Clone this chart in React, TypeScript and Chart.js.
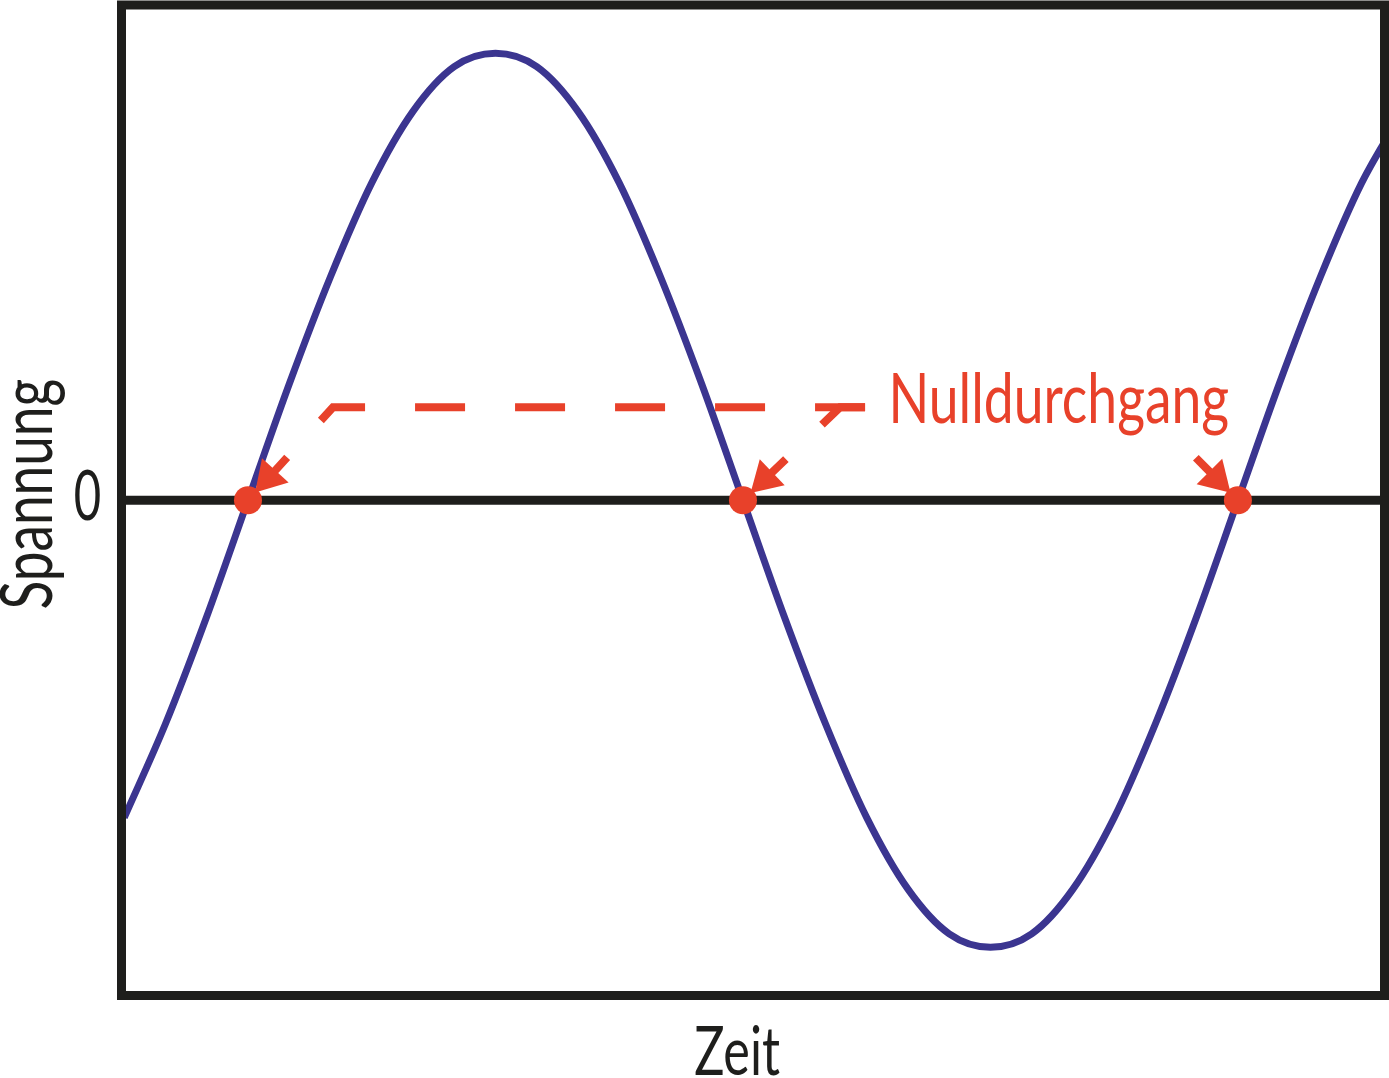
import React, { useEffect, useRef } from "react";
import { Chart, registerables } from "chart.js";

Chart.register(...registerables);

// ---- data (phase in degrees, voltage normalised to peak = 1) ----
const phaseDeg = [
  -45, -30, -15, 0, 15, 30, 45, 60, 75, 90, 105, 120, 135, 150, 165, 180,
  195, 210, 225, 240, 255, 270, 285, 300, 315, 330, 345, 360, 375, 390, 405, 420,
];
const voltage = [
  -0.71, -0.5, -0.26, 0, 0.26, 0.5, 0.71, 0.87, 0.97, 1, 0.97, 0.87, 0.71, 0.5, 0.26, 0,
  -0.26, -0.5, -0.71, -0.87, -0.97, -1, -0.97, -0.87, -0.71, -0.5, -0.26, 0, 0.26, 0.5, 0.71, 0.87,
];
const zeroCrossings = [0, 180, 360];
const xRange = [-46, 413.3];
const yRange = [-1.108, 1.108];
const xTitle = "Zeit";
const yTitle = "Spannung";
const yTickLabel = "0";
const annotationLabel = "Nulldurchgang";
// leader lines (data coordinates): each ends at a zero crossing
const leaderPaths: number[][][] = [
  [[224.4, 0.208], [30.9, 0.208], [0, 0]],
  [[224.4, 0.208], [215.3, 0.208], [180, 0]],
  [[344.7, 0.095], [360, 0]],
];

const RED = "#e8412a";
const BLUE = "#3b3590";
const INK = "#1e1e1c";
const FONT = '"Lato", "Noto Sans", sans-serif';

function drawFitted(
  ctx: CanvasRenderingContext2D,
  text: string,
  size: number,
  left: number,
  baseline: number,
  width: number
) {
  ctx.font = `400 ${size}px ${FONT}`;
  const m = ctx.measureText(text);
  const w = m.actualBoundingBoxRight + m.actualBoundingBoxLeft;
  const sx = width / w;
  ctx.save();
  ctx.translate(left, baseline);
  ctx.scale(sx, 1);
  ctx.textBaseline = "alphabetic";
  ctx.textAlign = "left";
  ctx.fillText(text, m.actualBoundingBoxLeft, 0);
  ctx.restore();
}

const overlayPlugin = {
  id: "overlay",
  afterDatasetsDraw(chart: any) {
    const { ctx, scales } = chart;
    const xs = scales.x;
    const ys = scales.y;
    const px = (d: number[]) => [xs.getPixelForValue(d[0]), ys.getPixelForValue(d[1])];
    ctx.save();
    ctx.strokeStyle = RED;
    ctx.fillStyle = RED;
    ctx.lineWidth = 8;
    ctx.lineCap = "butt";
    ctx.lineJoin = "miter";
    for (const path of leaderPaths) {
      const pts = path.map(px);
      const target = pts[pts.length - 1];
      const prev = pts[pts.length - 2];
      const dx = target[0] - prev[0];
      const dy = target[1] - prev[1];
      const len = Math.hypot(dx, dy);
      const ux = dx / len;
      const uy = dy / len;
      const tip = [target[0] - ux * 10.5, target[1] - uy * 10.5];
      const base = [tip[0] - ux * 30, tip[1] - uy * 30];
      ctx.setLineDash([50, 50]);
      ctx.beginPath();
      ctx.moveTo(pts[0][0], pts[0][1]);
      for (let i = 1; i < pts.length - 1; i++) ctx.lineTo(pts[i][0], pts[i][1]);
      ctx.lineTo(base[0] + ux * 2, base[1] + uy * 2);
      ctx.stroke();
      ctx.setLineDash([]);
      const nx = -uy;
      const ny = ux;
      ctx.beginPath();
      ctx.moveTo(tip[0], tip[1]);
      ctx.lineTo(base[0] + nx * 18, base[1] + ny * 18);
      ctx.lineTo(base[0] - nx * 18, base[1] - ny * 18);
      ctx.closePath();
      ctx.fill();
    }
    ctx.restore();
  },
  afterDraw(chart: any) {
    const { ctx, chartArea, scales } = chart;
    const ys = scales.y;
    const y0 = ys.getPixelForValue(0);
    const yLead = ys.getPixelForValue(leaderPaths[0][0][1]);
    ctx.save();
    // frame
    ctx.strokeStyle = INK;
    ctx.lineWidth = 9;
    ctx.setLineDash([]);
    ctx.strokeRect(chartArea.left, chartArea.top, chartArea.right - chartArea.left, chartArea.bottom - chartArea.top);
    // texts
    ctx.fillStyle = RED;
    drawFitted(ctx, annotationLabel, 70, 893, yLead + 15.5, 335);
    ctx.fillStyle = INK;
    drawFitted(ctx, xTitle, 67, 695, 1075, 85);
    drawFitted(ctx, yTickLabel, 70, 75, y0 + 19.5, 25);
    ctx.save();
    ctx.translate(52, 608);
    ctx.rotate(-Math.PI / 2);
    drawFitted(ctx, yTitle, 72, 0, 0, 228);
    ctx.restore();
    ctx.restore();
  },
};

export default function App() {
  const ref = useRef<HTMLCanvasElement | null>(null);
  useEffect(() => {
    document.body.style.margin = "0";
    if (!ref.current) return;
    const sine = phaseDeg.map((p, i) => ({ x: p, y: voltage[i] }));
    const chart = new Chart(ref.current, {
      type: "line",
      data: {
        datasets: [
          {
            label: "Spannung",
            data: sine,
            borderColor: BLUE,
            borderWidth: 7,
            pointRadius: 0,
            cubicInterpolationMode: "monotone",
            fill: false,
            order: 3,
          },
          {
            label: "Nulllinie",
            data: [
              { x: xRange[0], y: 0 },
              { x: xRange[1], y: 0 },
            ],
            borderColor: INK,
            borderWidth: 9,
            pointRadius: 0,
            fill: false,
            order: 2,
          },
          {
            label: "Nulldurchgang",
            data: zeroCrossings.map((x) => ({ x, y: 0 })),
            showLine: false,
            pointRadius: 14,
            pointBackgroundColor: RED,
            pointBorderWidth: 0,
            borderColor: RED,
            order: 1,
          },
        ],
      },
      options: {
        animation: false,
        responsive: false,
        devicePixelRatio: 1,
        events: [],
        layout: { autoPadding: false, padding: { left: 121.5, right: 4.5, top: 5, bottom: 82.5 } },
        scales: {
          x: { type: "linear", min: xRange[0], max: xRange[1], display: false },
          y: { type: "linear", min: yRange[0], max: yRange[1], display: false },
        },
        plugins: { legend: { display: false }, tooltip: { enabled: false } },
      },
      plugins: [overlayPlugin],
    } as any);
    return () => chart.destroy();
  }, []);
  return (
    <div style={{ width: 1389, height: 1078, background: "#fff" }}>
      <canvas ref={ref} width={1389} height={1078} style={{ display: "block" }} />
    </div>
  );
}
